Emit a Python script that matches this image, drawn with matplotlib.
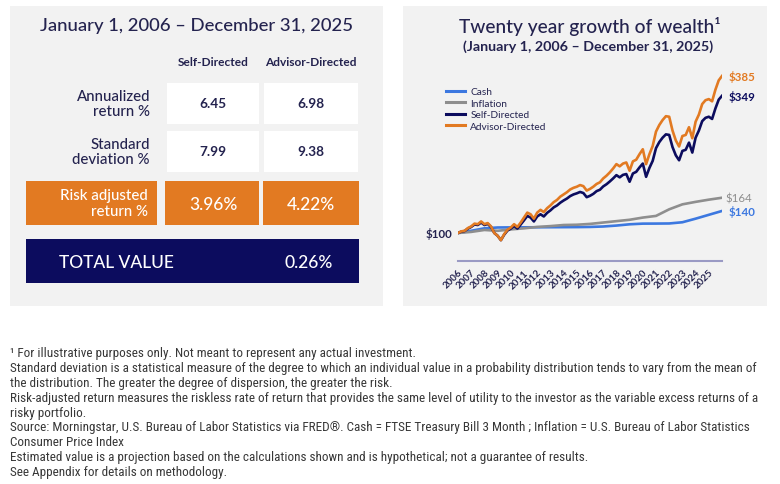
import numpy as np
import matplotlib
matplotlib.use("Agg")
import matplotlib.pyplot as plt
from matplotlib import font_manager
from matplotlib.patches import Rectangle
from matplotlib.transforms import ScaledTranslation

# ---- dane ----
row_labels = ["Annualized\nreturn %", "Standard\ndeviation %"]
self_vals = ["6.45", "7.99"]
advisor_vals = ["6.98", "9.38"]
risk_label = "Risk adjusted\nreturn %"
risk_vals = ["3.96%", "4.22%"]
total_label = "TOTAL VALUE"
total_val = "0.26%"
col_headers = ["Self-Directed", "Advisor-Directed"]

# kwartalne wartości (od 2006.0 do 2026.0)
quarters = np.linspace(2006, 2026, 81)
advisor = [100, 103, 104, 109, 112, 117, 116, 121, 116, 118, 112, 100,
           95, 87, 98, 106, 110, 116, 111, 119, 128, 137, 134, 126,
           137, 142, 138, 145, 150, 156, 160, 166, 170, 174, 179, 182,
           184, 187, 185, 177, 180, 184, 189, 192, 199, 204, 210, 217,
           225, 221, 226, 228, 213, 230, 233, 243, 252, 225, 243, 258,
           284, 296, 305, 312, 311, 286, 268, 257, 276, 278, 292, 272,
           302, 315, 334, 341, 343, 339, 360, 377, 385]
self_dir = [100, 102.5, 103.5, 108, 111, 115.5, 114.5, 119, 114.5, 116.5, 111, 100,
            95, 87, 97, 104.5, 108, 113, 108, 115.5, 123, 131, 128, 121,
            130, 134, 130, 136.5, 141, 146.5, 150, 155, 159, 162.5, 167, 170,
            172, 174.5, 172.5, 165, 167.5, 171, 176, 178.5, 184.5, 188.5, 193.5, 199,
            205, 201, 205.5, 207, 193, 208, 211, 219, 226, 202, 218, 231,
            254, 265, 273, 279, 278, 256, 241, 232, 249, 251, 264, 246,
            273, 286, 303, 309, 311, 307, 326, 342, 349]

# roczne wartości
years = np.arange(2006, 2027)
cash = [100, 104, 108.5, 110, 110.2, 110.3, 110.4, 110.5, 110.6, 110.7, 111,
        111.8, 113.5, 115.8, 117, 117.1, 117.3, 119.5, 126, 133, 140]
inflation = [100, 102, 105.5, 104, 106.5, 108.5, 111, 112.5, 114.5, 115, 116.5,
             119, 121.5, 124, 128, 131, 143, 152, 156.5, 160.5, 164]
tick_years = list(range(2006, 2026))

# ---- kolory ----
navy = "#0c0c5e"
text_navy = "#24234f"
orange = "#e27a22"
blue = "#3c78e0"
gray = "#8e8e8e"
panel = "#f2f2f2"

W, H = 780, 485
fig = plt.figure(figsize=(W / 100, H / 100), dpi=100)
fig.patch.set_facecolor("white")

names = {f.name for f in font_manager.fontManager.ttflist}
main_font = "Lato" if "Lato" in names else "DejaVu Sans"
foot_font = "Roboto"
for cand in ["Roboto Condensed", "Liberation Sans Narrow"]:
    if cand in names:
        foot_font = cand
        break


def fx(x):
    return x / W


def fy(y):
    return 1 - y / H


def rect(x0, y0, x1, y1, color, z=-1):
    fig.add_artist(Rectangle((fx(x0), fy(y1)), fx(x1) - fx(x0), fy(y0) - fy(y1),
                             transform=fig.transFigure, facecolor=color,
                             edgecolor="none", zorder=z))


def txt(x, y, s, **kw):
    kw.setdefault("family", main_font)
    kw.setdefault("color", text_navy)
    kw.setdefault("va", "center")
    kw.setdefault("fontweight", "medium")
    fig.text(fx(x), fy(y), s, **kw)


# ---- lewy panel ----
rect(10, 7, 383, 307, panel)
txt(197, 26, "January 1, 2006 \u2013 December 31, 2025", ha="center", fontsize=13.3)
txt(213, 62, col_headers[0], ha="center", fontsize=8.6, fontweight="bold")
txt(311, 62, col_headers[1], ha="center", fontsize=8.6, fontweight="bold")

row_y = [(84, 125), (132, 173)]
for i, (y0, y1) in enumerate(row_y):
    rect(167, y0, 259, y1, "white")
    rect(264, y0, 358, y1, "white")
    yc = (y0 + y1) / 2
    txt(150, yc, row_labels[i], ha="right", fontsize=10.8, linespacing=1.1)
    txt(213, yc, self_vals[i], ha="center", fontsize=9.8, fontweight="bold")
    txt(311, yc, advisor_vals[i], ha="center", fontsize=9.8, fontweight="bold")

rect(26, 182, 157, 226, orange)
rect(165, 182, 259, 226, orange)
rect(263, 182, 359, 226, orange)
txt(148, 204, risk_label, ha="right", fontsize=10.8, color="white", linespacing=1.1)
txt(213, 205, risk_vals[0], ha="center", fontsize=12.5, color="white")
txt(311, 205, risk_vals[1], ha="center", fontsize=12.5, color="white")

rect(26, 240, 359, 284, navy)
txt(59, 263, total_label, ha="left", fontsize=12.5, color="white")
txt(309, 263, total_val, ha="center", fontsize=12.5, color="white")

# ---- prawy panel ----
rect(403, 7, 767, 307, panel)
txt(590, 26, "Twenty year growth of wealth\u00b9", ha="center", fontsize=13.8)
txt(588, 47, "(January 1, 2006 \u2013 December 31, 2025)", ha="center",
    fontsize=10.3, fontweight="bold")

y_top_px, y_axis_px = 70, 262
px_per_unit = 0.551
ymax = 100 + (234 - y_top_px) / px_per_unit
ymin = 100 - (y_axis_px - 234) / px_per_unit
ax = fig.add_axes([fx(458), fy(y_axis_px), fx(722) - fx(458), (y_axis_px - y_top_px) / H])
ax.set_facecolor("none")
ax.plot(years, cash, color=blue, lw=1.9, label="Cash")
ax.plot(years, inflation, color=gray, lw=1.9, label="Inflation")
ax.plot(quarters, self_dir, color=navy, lw=1.9, label="Self-Directed")
ax.plot(quarters, advisor, color=orange, lw=1.9, label="Advisor-Directed")
ax.set_xlim(2006, 2026)
ax.set_ylim(ymin, ymax)

for sp in ["top", "left", "right"]:
    ax.spines[sp].set_visible(False)
ax.spines["bottom"].set_color("#9a9ac4")
ax.spines["bottom"].set_linewidth(1.5)
ax.set_yticks([])
ax.set_xticks(tick_years)
ax.set_xticklabels([str(y) for y in tick_years], rotation=45, ha="right",
                   va="center", rotation_mode="anchor", fontsize=7,
                   fontweight="bold", color=text_navy, family=main_font)
ax.tick_params(axis="x", length=0, pad=7)
off = ScaledTranslation(3 / 100, 0, fig.dpi_scale_trans)
for lbl in ax.get_xticklabels():
    lbl.set_transform(lbl.get_transform() + off)

end_labels = [(advisor[-1], orange, "bold", 4.5),
              (self_dir[-1], navy, "bold", 5),
              (inflation[-1], gray, "normal", 2.5),
              (cash[-1], blue, "bold", 5)]
for val, col, wt, dx in end_labels:
    ax.annotate(f"${val:.0f}", xy=(2026, val), xytext=(dx, 0),
                textcoords="offset points", va="center", ha="left",
                fontsize=8.3, color=col, fontweight=wt, family=main_font,
                annotation_clip=False)
ax.annotate(f"${advisor[0]:.0f}", xy=(2006, advisor[0]), xytext=(-4, 0),
            textcoords="offset points", va="center", ha="right",
            fontsize=8.3, color=text_navy, fontweight="bold", family=main_font,
            annotation_clip=False)

leg = ax.legend(loc="upper left", bbox_to_anchor=(fx(446), fy(88)),
                bbox_transform=fig.transFigure, frameon=False,
                handlelength=1.9, handletextpad=0.5, labelspacing=0.25,
                borderpad=0, borderaxespad=0, labelcolor=text_navy,
                prop={"family": main_font, "size": 7.3})
for line in leg.get_lines():
    line.set_linewidth(2.2)

# ---- przypisy ----
notes = [
    "\u00b9 For illustrative purposes only. Not meant to represent any actual investment.",
    "Standard deviation is a statistical measure of the degree to which an individual value in a probability distribution tends to vary from the mean of",
    "the distribution. The greater the degree of dispersion, the greater the risk.",
    "Risk-adjusted return measures the riskless rate of return that provides the same level of utility to the investor as the variable excess returns of a",
    "risky portfolio.",
    "Source: Morningstar, U.S. Bureau of Labor Statistics via FRED\u00ae. Cash = FTSE Treasury Bill 3 Month ; Inflation = U.S. Bureau of Labor Statistics",
    "Consumer Price Index",
    "Estimated value is a projection based on the calculations shown and is hypothetical; not a guarantee of results.",
    "See Appendix for details on methodology.",
]
for i, line in enumerate(notes):
    txt(10, 354 + i * 14.8, line, ha="left", fontsize=9.5, color="#383838",
        family=foot_font, fontweight="normal")

fig.savefig("out.png", dpi=100, facecolor="white")
